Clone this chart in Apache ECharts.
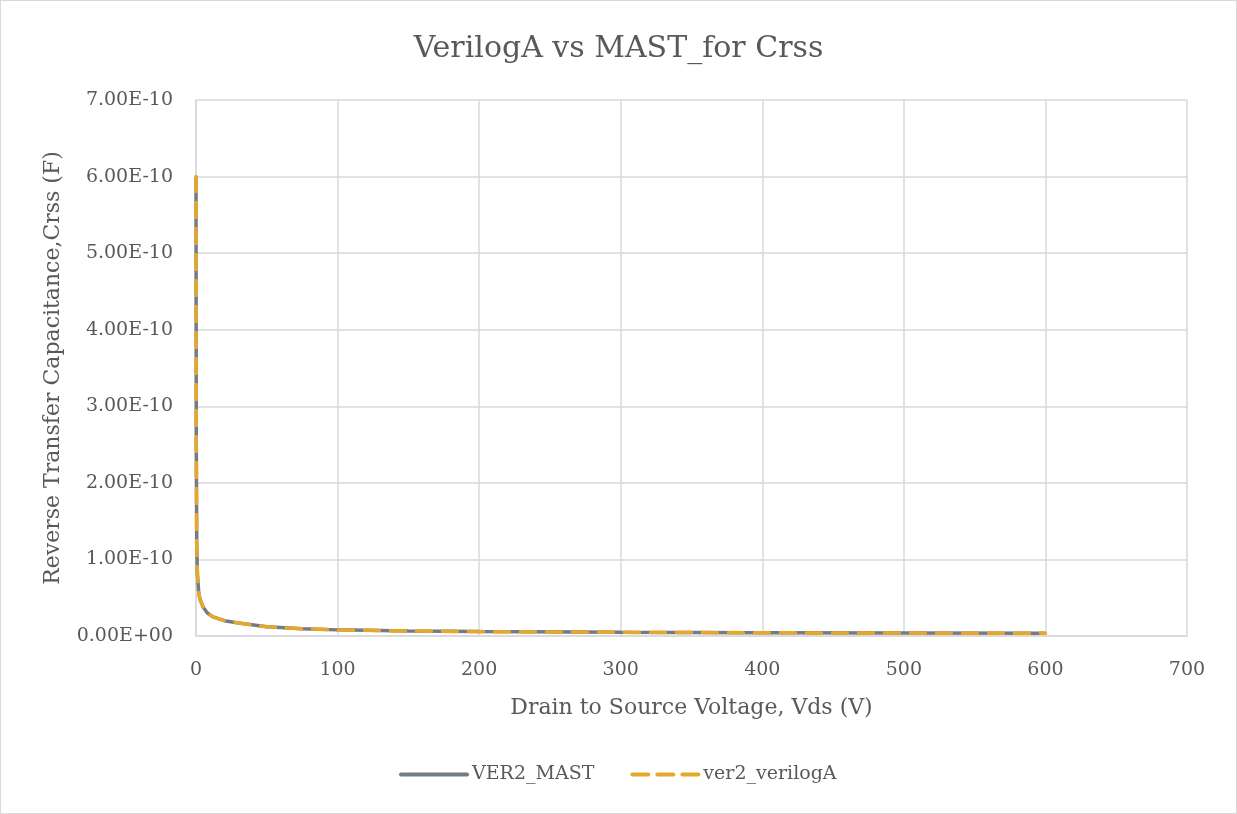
<!DOCTYPE html>
<html>
<head>
<meta charset="utf-8">
<script src="https://cdn.jsdelivr.net/npm/echarts@6/dist/echarts.min.js"></script>
<style>
  html, body { margin: 0; padding: 0; background: #fff; }
  #chart { width: 1237px; height: 814px; box-sizing: border-box; border: 1px solid #d9d9d9; }
</style>
</head>
<body>
<div id="chart"></div>
<script>
// drain-source voltage (V)
var vds = [0, 0.2, 0.5, 1, 2, 3, 5, 8, 12, 20, 30, 50, 75, 100, 150, 200, 300, 400, 500, 600];
// Crss, in units of 1e-10 F
var mastCrss = [6.0, 2.5, 1.2, 0.8, 0.55, 0.47, 0.38, 0.30, 0.25, 0.20, 0.17, 0.12, 0.095, 0.08, 0.065, 0.058, 0.048, 0.042, 0.038, 0.035];
var verilogCrss = [6.0, 2.5, 1.2, 0.8, 0.55, 0.47, 0.38, 0.30, 0.25, 0.20, 0.17, 0.12, 0.095, 0.08, 0.065, 0.058, 0.048, 0.042, 0.038, 0.035];
var seriesNames = ["VER2_MAST", "ver2_verilogA"];

var font = "DejaVu Serif";
var textColor = "#595959";
var grey = "#737a88";
var gold = "#e6a82a";

function pairs(xs, ys) {
  return xs.map(function (x, i) { return [x, ys[i] * 1e-10]; });
}

function sci(v) {
  var parts = v.toExponential(2).split("e");
  var e = parseInt(parts[1], 10);
  var sign = e < 0 ? "-" : "+";
  var abs = Math.abs(e);
  return parts[0] + "E" + sign + (abs < 10 ? "0" + abs : abs);
}

var myChart = echarts.init(document.getElementById("chart"));
var option = {
  animation: false,
  title: {
    text: "VerilogA vs MAST_for Crss",
    left: "center",
    top: 28,
    textStyle: { fontFamily: font, fontSize: 30, fontWeight: "normal", color: textColor }
  },
  legend: {
    bottom: 24,
    left: 393,
    itemWidth: 66,
    itemHeight: 14,
    itemGap: 36,
    itemStyle: { opacity: 0 },
    textStyle: { fontFamily: font, fontSize: 19, color: textColor },
    data: [
      { name: seriesNames[0], lineStyle: { color: grey, width: 4, cap: "round" } },
      { name: seriesNames[1], lineStyle: { color: gold, width: 4, type: [16, 9], cap: "round" } }
    ]
  },
  grid: { left: 195, right: 49, top: 99, bottom: 177, containLabel: false },
  xAxis: {
    type: "value",
    min: 0,
    max: 700,
    interval: 100,
    name: "Drain to Source Voltage, Vds (V)",
    nameLocation: "middle",
    nameGap: 61,
    nameTextStyle: { fontFamily: font, fontSize: 22, color: textColor },
    axisLine: { lineStyle: { color: "#d9d9d9", width: 1.5 } },
    axisTick: { show: false },
    axisLabel: { fontFamily: font, fontSize: 19, color: textColor, margin: 25 },
    splitLine: { lineStyle: { color: "#d9d9d9", width: 1.5 } }
  },
  yAxis: {
    type: "value",
    min: 0,
    max: 7e-10,
    interval: 1e-10,
    name: "Reverse Transfer Capacitance,Crss (F)",
    nameLocation: "middle",
    nameGap: 132,
    nameTextStyle: { fontFamily: font, fontSize: 22, color: textColor },
    axisLine: { show: true, lineStyle: { color: "#d9d9d9", width: 1.5 } },
    axisTick: { show: false },
    axisLabel: { fontFamily: font, fontSize: 19, color: textColor, margin: 23, formatter: sci },
    splitLine: { lineStyle: { color: "#d9d9d9", width: 1.5 } }
  },
  series: [
    {
      name: seriesNames[0],
      type: "line",
      symbol: "none",
      data: pairs(vds, mastCrss),
      lineStyle: { color: grey, width: 3.5 },
      itemStyle: { color: grey }
    },
    {
      name: seriesNames[1],
      type: "line",
      symbol: "none",
      data: pairs(vds, verilogCrss),
      lineStyle: { color: gold, width: 3.5, type: [15, 11], cap: "round" },
      itemStyle: { color: gold }
    }
  ]
};
myChart.setOption(option);
</script>
</body>
</html>
